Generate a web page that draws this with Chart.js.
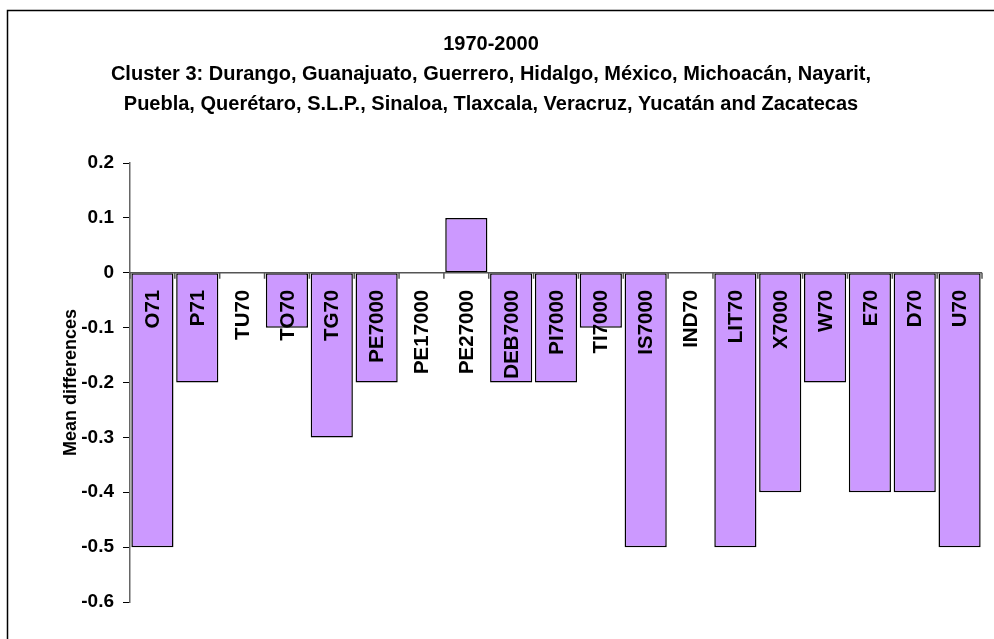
<!DOCTYPE html>
<html>
<head>
<meta charset="utf-8">
<script src="https://cdn.jsdelivr.net/npm/chart.js@4.4.0/dist/chart.umd.min.js"></script>
<style>
  html, body { margin: 0; padding: 0; background: #fff; }
  #wrap { width: 994px; height: 639px; }
</style>
</head>
<body>
<div id="wrap"><canvas id="myChart" width="994" height="639"></canvas></div>
<script>
var categories = ['O71','P71','TU70','TO70','TG70','PE7000','PE17000','PE27000','DEB7000','PI7000','TI7000','IS7000','IND70','LIT70','X7000','W70','E70','D70','U70'];
var meanDiffs = [-0.5,-0.2,0,-0.1,-0.3,-0.2,0,0.1,-0.2,-0.2,-0.1,-0.5,0,-0.5,-0.4,-0.2,-0.4,-0.4,-0.5];
var titleLines = ['1970-2000',
    'Cluster 3: Durango, Guanajuato, Guerrero, Hidalgo, México, Michoacán, Nayarit,',
    'Puebla, Querétaro, S.L.P., Sinaloa, Tlaxcala, Veracruz, Yucatán and Zacatecas'];
var yMin = -0.6, yMax = 0.2, yStep = 0.1;

var FONT = 'Arial, "Liberation Sans", sans-serif';

// frame + zero axis with category ticks and labels
var zeroAxis = {
    id: 'zeroAxis',
    beforeDraw: function(chart){
        var ctx = chart.ctx;
        ctx.save();
        ctx.strokeStyle = '#000';
        ctx.lineWidth = 1.5;
        ctx.beginPath();
        ctx.moveTo(7.5, 700);
        ctx.lineTo(7.5, 10.5);
        ctx.lineTo(1000, 10.5);
        ctx.stroke();
        ctx.restore();
    },
    afterDatasetsDraw: function(chart){
        var ctx = chart.ctx, xs = chart.scales.x, ys = chart.scales.y;
        var y0 = ys.getPixelForValue(0);
        ctx.save();
        ctx.strokeStyle = '#555';
        ctx.lineWidth = 1.5;
        ctx.beginPath();
        ctx.moveTo(chart.chartArea.left, y0);
        ctx.lineTo(chart.chartArea.right, y0);
        for (var i = 0; i <= categories.length; i++) {
            var x = xs.getPixelForValue(i - 0.5);
            ctx.moveTo(x, y0);
            ctx.lineTo(x, y0 + 6);
        }
        ctx.stroke();
        ctx.fillStyle = '#000';
        ctx.font = 'bold 20.5px ' + FONT;
        ctx.textAlign = 'right';
        ctx.textBaseline = 'middle';
        for (var j = 0; j < categories.length; j++) {
            ctx.save();
            ctx.translate(xs.getPixelForValue(j) + 1, y0 + 17);
            ctx.rotate(-Math.PI / 2);
            ctx.fillText(categories[j], 0, 0);
            ctx.restore();
        }
        ctx.restore();
    }
};

var ctx = document.getElementById('myChart').getContext('2d');
var myChart = new Chart(ctx, {
    type: 'bar',
    data: {
        labels: categories,
        datasets: [{
            label: 'Mean differences',
            data: meanDiffs,
            backgroundColor: '#CC99FF',
            borderColor: '#000',
            borderWidth: 1.5,
            borderSkipped: false,
            barPercentage: 0.94,
            categoryPercentage: 1.0
        }]
    },
    plugins: [zeroAxis],
    options: {
        responsive: false,
        animation: false,
        layout: { padding: { top: 0, right: 12, bottom: 37, left: 0 } },
        plugins: {
            legend: { display: false },
            tooltip: { enabled: false },
            title: {
                display: true,
                text: titleLines,
                color: '#000',
                font: { family: FONT, size: 20, weight: 'bold', lineHeight: 1.5 },
                padding: { top: 29, bottom: 44 }
            }
        },
        scales: {
            x: {
                display: false
            },
            y: {
                min: yMin,
                max: yMax,
                afterFit: function(scale){ scale.width = 130; },
                ticks: {
                    stepSize: yStep,
                    color: '#000',
                    padding: 9,
                    font: { family: FONT, size: 19, weight: 'bold' },
                    callback: function(v){ return Math.abs(v) < 1e-9 ? '0' : (Math.round(v * 10) / 10).toString(); }
                },
                grid: {
                    drawOnChartArea: false,
                    drawTicks: true,
                    tickLength: 7,
                    tickColor: '#000',
                    color: '#000'
                },
                border: { display: true, color: '#666', width: 1.5 },
                title: {
                    display: true,
                    text: 'Mean differences',
                    color: '#000',
                    font: { family: FONT, size: 18, weight: 'bold' },
                    padding: { top: 60, bottom: 0 }
                }
            }
        }
    }
});
</script>
</body>
</html>
